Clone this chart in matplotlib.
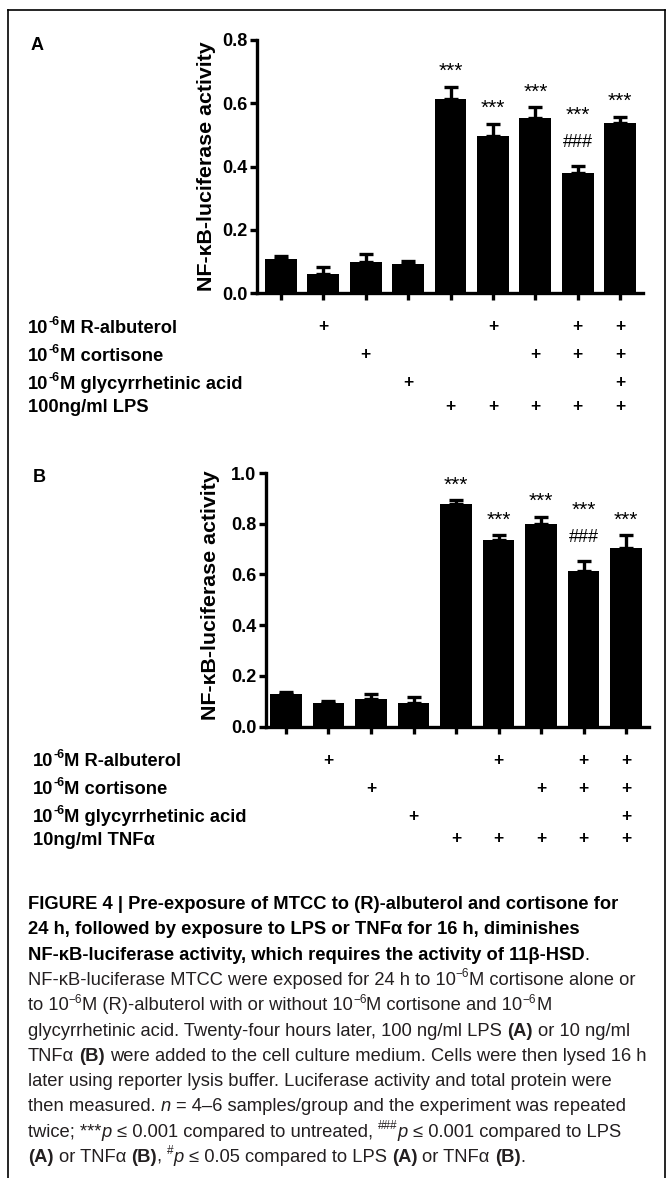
import numpy as np
import matplotlib
matplotlib.use('Agg')
import matplotlib.pyplot as plt
from matplotlib.text import Annotation
from matplotlib.lines import Line2D
from matplotlib import transforms

plt.rcParams['font.family'] = ['Liberation Sans', 'DejaVu Sans']

# data (mean, upper error)
lps_mean = [0.108, 0.060, 0.099, 0.091, 0.613, 0.498, 0.553, 0.379, 0.539]
lps_sem = [0.010, 0.022, 0.025, 0.011, 0.040, 0.037, 0.035, 0.024, 0.019]
tnf_mean = [0.128, 0.095, 0.109, 0.092, 0.877, 0.737, 0.798, 0.615, 0.704]
tnf_sem = [0.009, 0.005, 0.019, 0.025, 0.015, 0.017, 0.030, 0.039, 0.050]

stars = ['', '', '', '', '***', '***', '***', '***', '***']
hashes = ['', '', '', '', '', '', '', '###', '']

# treatment table (+ marks)
albuterol = [0, 1, 0, 0, 0, 1, 0, 1, 1]
cortisone = [0, 0, 1, 0, 0, 0, 1, 1, 1]
glycyrrhetinic = [0, 0, 0, 1, 0, 0, 0, 0, 1]
stimulus = [0, 0, 0, 0, 1, 1, 1, 1, 1]

rows_a = [('10', '-6', 'M R-albuterol', albuterol),
          ('10', '-6', 'M cortisone', cortisone),
          ('10', '-6', 'M glycyrrhetinic acid', glycyrrhetinic),
          ('', '', '100ng/ml LPS', stimulus)]
rows_b = [('10', '-6', 'M R-albuterol', albuterol),
          ('10', '-6', 'M cortisone', cortisone),
          ('10', '-6', 'M glycyrrhetinic acid', glycyrrhetinic),
          ('', '', '10ng/ml TNF\u03b1', stimulus)]

ylabel = 'NF-\u03baB-luciferase activity'

W, H = 667, 1178
fig = plt.figure(figsize=(W / 100, H / 100), dpi=100)


def fx(px):
    return px / W


def fy(py):
    return 1 - py / H


SPACE_EM = 0.278


def rich_line(x_px, y_px, parts, size=12, color='black'):
    # draws pieces of text one after another on one baseline
    prev = None
    pending = 0.0
    for text, style in parts:
        fs = style.get('size', size)
        lead = len(text) - len(text.lstrip(' '))
        trail = len(text) - len(text.rstrip(' '))
        core = text.strip(' ')
        gap = pending + lead * SPACE_EM * fs
        pending = trail * SPACE_EM * fs
        kw = dict(fontsize=fs, color=style.get('color', color),
                  fontweight=style.get('weight', 'normal'),
                  fontstyle=style.get('style', 'normal'),
                  va='baseline', ha='left')
        if prev is None:
            t = fig.text(fx(x_px), fy(y_px), core, **kw)
        else:
            t = Annotation(core, xy=(1, fy(y_px)), xycoords=(prev, 'figure fraction'),
                           xytext=(gap, style.get('dy', 0)), textcoords='offset points', **kw)
            fig.add_artist(t)
        prev = t


def draw_panel(ax, means, sems, ymax, xlim, label_x, label_y, rows, row_x, row_y, letter, letter_xy):
    n = len(means)
    x = np.arange(n)
    ax.bar(x, means, width=0.75, color='black',
           yerr=[np.zeros(n), sems],
           error_kw=dict(ecolor='black', elinewidth=2.4, capsize=4.8, capthick=2.4))
    ax.set_xlim(*xlim)
    ax.set_ylim(0, ymax)
    for s in ['top', 'right']:
        ax.spines[s].set_visible(False)
    for s in ['left', 'bottom']:
        ax.spines[s].set_linewidth(2.4)
    ax.set_yticks(np.arange(0, ymax + 0.001, 0.2))
    ax.set_yticklabels(['%.1f' % v for v in np.arange(0, ymax + 0.001, 0.2)],
                       fontweight='bold', fontsize=13)
    ax.set_xticks(x)
    ax.set_xticklabels([])
    ax.tick_params(width=2.4, length=5, pad=2)

    tops = np.array(means) + np.array(sems)
    for i in range(n):
        if hashes[i]:
            ax.annotate(hashes[i], (x[i], tops[i]), xytext=(0, 17), textcoords='offset points',
                        ha='center', va='center', fontsize=13)
            ax.annotate(stars[i], (x[i], tops[i]), xytext=(0, 36), textcoords='offset points',
                        ha='center', va='center', fontsize=15)
        elif stars[i]:
            ax.annotate(stars[i], (x[i], tops[i]), xytext=(0, 11), textcoords='offset points',
                        ha='center', va='center', fontsize=15)

    fig.text(fx(label_x), fy(label_y), ylabel, rotation=90, ha='center', va='center',
             fontsize=15.4, fontweight='bold')
    fig.text(fx(letter_xy[0]), fy(letter_xy[1]), letter, ha='left', va='center',
             fontsize=13, fontweight='bold')

    tr = transforms.blended_transform_factory(ax.transData, fig.transFigure)
    for (pre, sup, rest, marks), yy in zip(rows, row_y):
        base = yy + 6
        if pre:
            rich_line(row_x, base, [(pre, {'weight': 'bold'}),
                                    (sup, {'weight': 'bold', 'size': 9, 'dy': 6}),
                                    (rest, {'weight': 'bold'})], size=13.2)
        else:
            rich_line(row_x, base, [(rest, {'weight': 'bold'})], size=13.2)
        for i, m in enumerate(marks):
            if m:
                ax.text(x[i], fy(yy), '+', transform=tr, ha='center', va='center',
                        fontsize=12.5, fontweight='bold')


axA = fig.add_axes([fx(257), fy(293.3), (643 - 257) / W, (293.3 - 40) / H])
draw_panel(axA, lps_mean, lps_sem, 0.8, (-0.565, 8.54), 206, 166,
           rows_a, 28, [327, 355, 383, 406], 'A', (31, 45))

axB = fig.add_axes([fx(266), fy(726.7), (649 - 266) / W, (726.7 - 473) / H])
draw_panel(axB, tnf_mean, tnf_sem, 1.0, (-0.47, 8.54), 211, 595,
           rows_b, 33, [760, 788, 816, 839], 'B', (33, 478))

# caption
B = {'weight': 'bold'}
R = {}
I = {'style': 'italic'}
S = {'size': 8.5, 'dy': 5.5}
cap_color = '#231f20'
caption = [
    [('FIGURE 4 | Pre-exposure of MTCC to (R)-albuterol and cortisone for', B)],
    [('24 h, followed by exposure to LPS or TNF\u03b1 for 16 h, diminishes', B)],
    [('NF-\u03baB-luciferase activity, which requires the activity of 11\u03b2-HSD', B), ('.', R)],
    [('NF-\u03baB-luciferase MTCC were exposed for 24 h to 10', R), ('\u22126', S),
     ('M cortisone alone or', R)],
    [('to 10', R), ('\u22126', S), ('M (R)-albuterol with or without 10', R), ('\u22126', S),
     ('M cortisone and 10', R), ('\u22126', S), ('M', R)],
    [('glycyrrhetinic acid. Twenty-four hours later, 100 ng/ml LPS ', R), ('(A)', B),
     (' or 10 ng/ml', R)],
    [('TNF\u03b1 ', R), ('(B)', B), (' were added to the cell culture medium. Cells were then lysed 16 h', R)],
    [('later using reporter lysis buffer. Luciferase activity and total protein were', R)],
    [('then measured. ', R), ('n', I), (' = 4\u20136 samples/group and the experiment was repeated', R)],
    [('twice; ***', R), ('p', I), (' \u2264 0.001 compared to untreated, ', R), ('###', S), ('p', I),
     (' \u2264 0.001 compared to LPS', R)],
    [('(A)', B), (' or TNF\u03b1 ', R), ('(B)', B), (', ', R), ('#', S), ('p', I),
     (' \u2264 0.05 compared to LPS ', R), ('(A)', B), (' or TNF\u03b1 ', R), ('(B)', B), ('.', R)],
]
for k, parts in enumerate(caption):
    col = 'black' if k < 3 else cap_color
    rich_line(28, 909 + 25.3 * k, parts, size=13.2, color=col)

# frame around the figure
for xs, ys in [([8, 8], [H, 10]), ([8, 665], [10, 10]), ([665, 665], [10, H])]:
    fig.add_artist(Line2D([fx(v) for v in xs], [fy(v) for v in ys], lw=1.2, color='black'))

fig.savefig('out.png', dpi=100)
